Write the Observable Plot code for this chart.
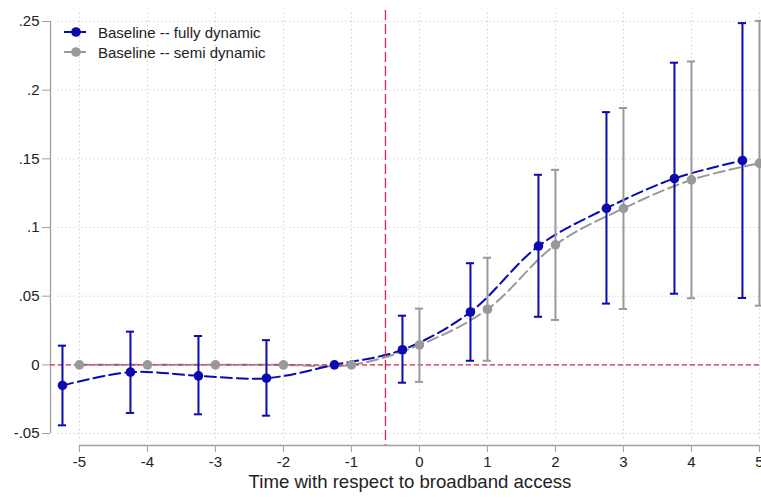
<!DOCTYPE html>
<html>
<head>
<meta charset="utf-8">
<script src="https://cdn.jsdelivr.net/npm/d3@7"></script>
<script src="https://cdn.jsdelivr.net/npm/@observablehq/plot@0.6"></script>
<style>
  html, body { margin: 0; padding: 0; background: #fff; }
  #wrap { position: relative; width: 761px; height: 500px; font-family: Arial, "Liberation Sans", sans-serif; }
  #legend { position: absolute; left: 63px; top: 22px; font-size: 15px; color: #222; }
  .item { display: flex; align-items: center; height: 20px; }
  .item svg { margin-right: 11px; }
</style>
</head>
<body>
<div id="wrap">
  <div id="chart"></div>
  <div id="legend"></div>
</div>
<script>
// Event-time periods
const periods = [-5, -4, -3, -2, -1, 0, 1, 2, 3, 4, 5];

// Baseline -- fully dynamic (plotted with a -0.25 offset)
const fullEst = [-0.015, -0.0053, -0.008, -0.0097, 0, 0.011, 0.0385, 0.0865, 0.114, 0.1357, 0.1488];
const fullLo  = [-0.044, -0.035, -0.036, -0.037, null, -0.013, 0.003, 0.035, 0.0446, 0.0518, 0.0487];
const fullHi  = [0.014, 0.0242, 0.021, 0.018, null, 0.0358, 0.074, 0.1384, 0.184, 0.220, 0.2488];

// Baseline -- semi dynamic
const semiEst = [0, 0, 0, 0, 0, 0.0145, 0.0405, 0.0874, 0.1139, 0.1347, 0.1468];
const semiLo  = [null, null, null, null, null, -0.0124, 0.003, 0.0327, 0.0407, 0.0485, 0.0431];
const semiHi  = [null, null, null, null, null, 0.041, 0.078, 0.142, 0.187, 0.2209, 0.2505];

const seriesNames = ["Baseline -- fully dynamic", "Baseline -- semi dynamic"];
const xTicks = [-5, -4, -3, -2, -1, 0, 1, 2, 3, 4, 5];
const yTicks = [-0.05, 0, 0.05, 0.1, 0.15, 0.2, 0.25];
const yTickLabels = ["-.05", "0", ".05", ".1", ".15", ".2", ".25"];
const xLabel = "Time with respect to broadband access";

const BLUE = "#0a0ab0";
const GRAY = "#999999";
const RED = "#e0204f";

const full = periods.map((t, i) => ({x: t - 0.25, y: fullEst[i], lo: fullLo[i], hi: fullHi[i]}));
const semi = periods.map((t, i) => ({x: t, y: semiEst[i], lo: semiLo[i], hi: semiHi[i]}));
const fullCI = full.filter(d => d.lo != null);
const semiCI = semi.filter(d => d.lo != null);
const cap = 0.06;

const xDom = [-5.426, 5.03];
const yDom = [-0.0587, 0.258];

const chart = Plot.plot({
  width: 761,
  height: 500,
  marginLeft: 50,
  marginRight: 0,
  marginTop: 10,
  marginBottom: 55,
  style: {fontFamily: "Arial, 'Liberation Sans', sans-serif", background: "#fff"},
  x: {domain: xDom},
  y: {domain: yDom},
  marks: [
    // grid
    Plot.ruleY(yTicks, {x1: -5.32, x2: xDom[1], stroke: "#c0c0c0", strokeWidth: 1, strokeDasharray: "1,3"}),
    Plot.ruleX(xTicks, {y1: -0.0535, y2: yDom[1], stroke: "#c0c0c0", strokeWidth: 1, strokeDasharray: "1,3"}),
    // axes lines
    Plot.ruleY([yDom[0]], {x1: -5, x2: 5, stroke: "#a0a0a0", strokeWidth: 1.3}),
    Plot.ruleX([xDom[0]], {y1: -0.05, y2: 0.25, stroke: "#a0a0a0", strokeWidth: 1.3}),
    Plot.axisX({ticks: xTicks, tickSize: 7, tickPadding: 4, stroke: "#a0a0a0", fill: "#222", fontSize: 15, label: null, tickFormat: d => d}),
    Plot.axisY({ticks: yTicks, tickSize: 8, tickPadding: 3, stroke: "#a0a0a0", fill: "#222", fontSize: 15, label: null,
      tickFormat: d => yTickLabels[yTicks.findIndex(v => Math.abs(v - d) < 1e-9)]}),
    Plot.text([xLabel], {frameAnchor: "bottom", dx: 4, dy: 42, fontSize: 18.6, fill: "#222"}),
    // lines
    Plot.line(semi, {x: "x", y: "y", stroke: GRAY, strokeWidth: 2, strokeDasharray: "11,5", curve: "catmull-rom"}),
    Plot.line(full, {x: "x", y: "y", stroke: BLUE, strokeWidth: 2, strokeDasharray: "11,5", curve: "catmull-rom"}),
    // reference lines
    Plot.ruleY([0], {stroke: RED, strokeWidth: 1.2, strokeDasharray: "5,3"}),
    Plot.ruleX([-0.5], {stroke: RED, strokeWidth: 1.3, strokeDasharray: "10,4"}),
    // error bars
    Plot.ruleX(semiCI, {x: "x", y1: "lo", y2: "hi", stroke: GRAY, strokeWidth: 2}),
    Plot.ruleY(semiCI, {y: "hi", x1: d => d.x - cap, x2: d => d.x + cap, stroke: GRAY, strokeWidth: 2}),
    Plot.ruleY(semiCI, {y: "lo", x1: d => d.x - cap, x2: d => d.x + cap, stroke: GRAY, strokeWidth: 2}),
    Plot.ruleX(fullCI, {x: "x", y1: "lo", y2: "hi", stroke: BLUE, strokeWidth: 2}),
    Plot.ruleY(fullCI, {y: "hi", x1: d => d.x - cap, x2: d => d.x + cap, stroke: BLUE, strokeWidth: 2}),
    Plot.ruleY(fullCI, {y: "lo", x1: d => d.x - cap, x2: d => d.x + cap, stroke: BLUE, strokeWidth: 2}),
    // points
    Plot.dot(semi, {x: "x", y: "y", r: 4.8, fill: GRAY, stroke: "none"}),
    Plot.dot(full, {x: "x", y: "y", r: 4.8, fill: BLUE, stroke: "none"})
  ]
});
document.getElementById("chart").appendChild(chart);

// legend
const legend = document.getElementById("legend");
[[seriesNames[0], BLUE], [seriesNames[1], GRAY]].forEach(([name, color]) => {
  const div = document.createElement("div");
  div.className = "item";
  div.innerHTML = `<svg width="24" height="12"><line x1="1" y1="6" x2="23" y2="6" stroke="${color}" stroke-width="2"/><circle cx="13" cy="6" r="4.8" fill="${color}"/></svg><span>${name}</span>`;
  legend.appendChild(div);
});
</script>
</body>
</html>
